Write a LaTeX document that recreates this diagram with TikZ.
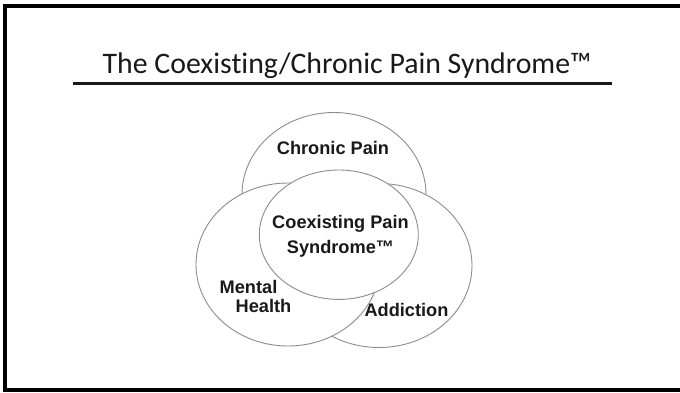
\documentclass[tikz,border=0pt]{standalone}
\usepackage{fontspec}
\setmainfont{Liberation Sans}
\newfontfamily\titlefont[Ligatures=CommonOff]{Carlito}
\begin{document}
\begin{tikzpicture}[x=1pt,y=-1pt,
  frameline/.style={line width=4pt,black},
  bubble/.style={draw=black!45,line width=0.9pt,fill=white},
  lbl/.style={font=\fontsize{18.2}{21}\selectfont\bfseries,text=black!90,inner sep=0pt,align=center}]
\useasboundingbox (0,0) rectangle (680,392);
% frame
\coordinate (ftl) at (3,6);
\coordinate (ftr) at (680,6);
\coordinate (fl1) at (5,4);
\coordinate (fl2) at (5,392);
\coordinate (fbl) at (3,389.5);
\coordinate (fbr) at (680,389.5);
\draw[frameline] (ftl) -- (ftr);
\draw[frameline] (fl1) -- (fl2);
\draw[frameline] (fbl) -- (fbr);
% title
\node[font=\titlefont\fontsize{29.8}{34}\selectfont,text=black!90,anchor=base,inner sep=0pt] (title) at (347,73) {The Coexisting/Chronic Pain Syndrome™};
\coordinate (ul1) at (73,83.5);
\coordinate (ul2) at (612,83.5);
\draw[line width=3pt,black!90] (ul1) -- (ul2);
% ellipses
\draw[bubble] (334,194.5) ellipse [x radius=92, y radius=82];
\draw[bubble] (379,265.5) ellipse [x radius=93, y radius=82];
\draw[bubble] (288,264.5) ellipse [x radius=92, y radius=81.5];
\draw[bubble] (338.8,234.7) ellipse [x radius=79.5, y radius=64.7];
% labels
\node[lbl,anchor=base] (chronic) at (333,154) {Chronic Pain};
\node[lbl,anchor=base] (coex1) at (340.5,228.5) {Coexisting Pain};
\node[lbl,anchor=base] (coex2) at (340.5,253) {Syndrome™};
\node[lbl,anchor=base] (mental) at (248.5,293) {Mental};
\node[lbl,anchor=base] (health) at (263.5,312.5) {Health};
\node[lbl,anchor=base] (addiction) at (406.5,316.5) {Addiction};
\end{tikzpicture}
\end{document}
